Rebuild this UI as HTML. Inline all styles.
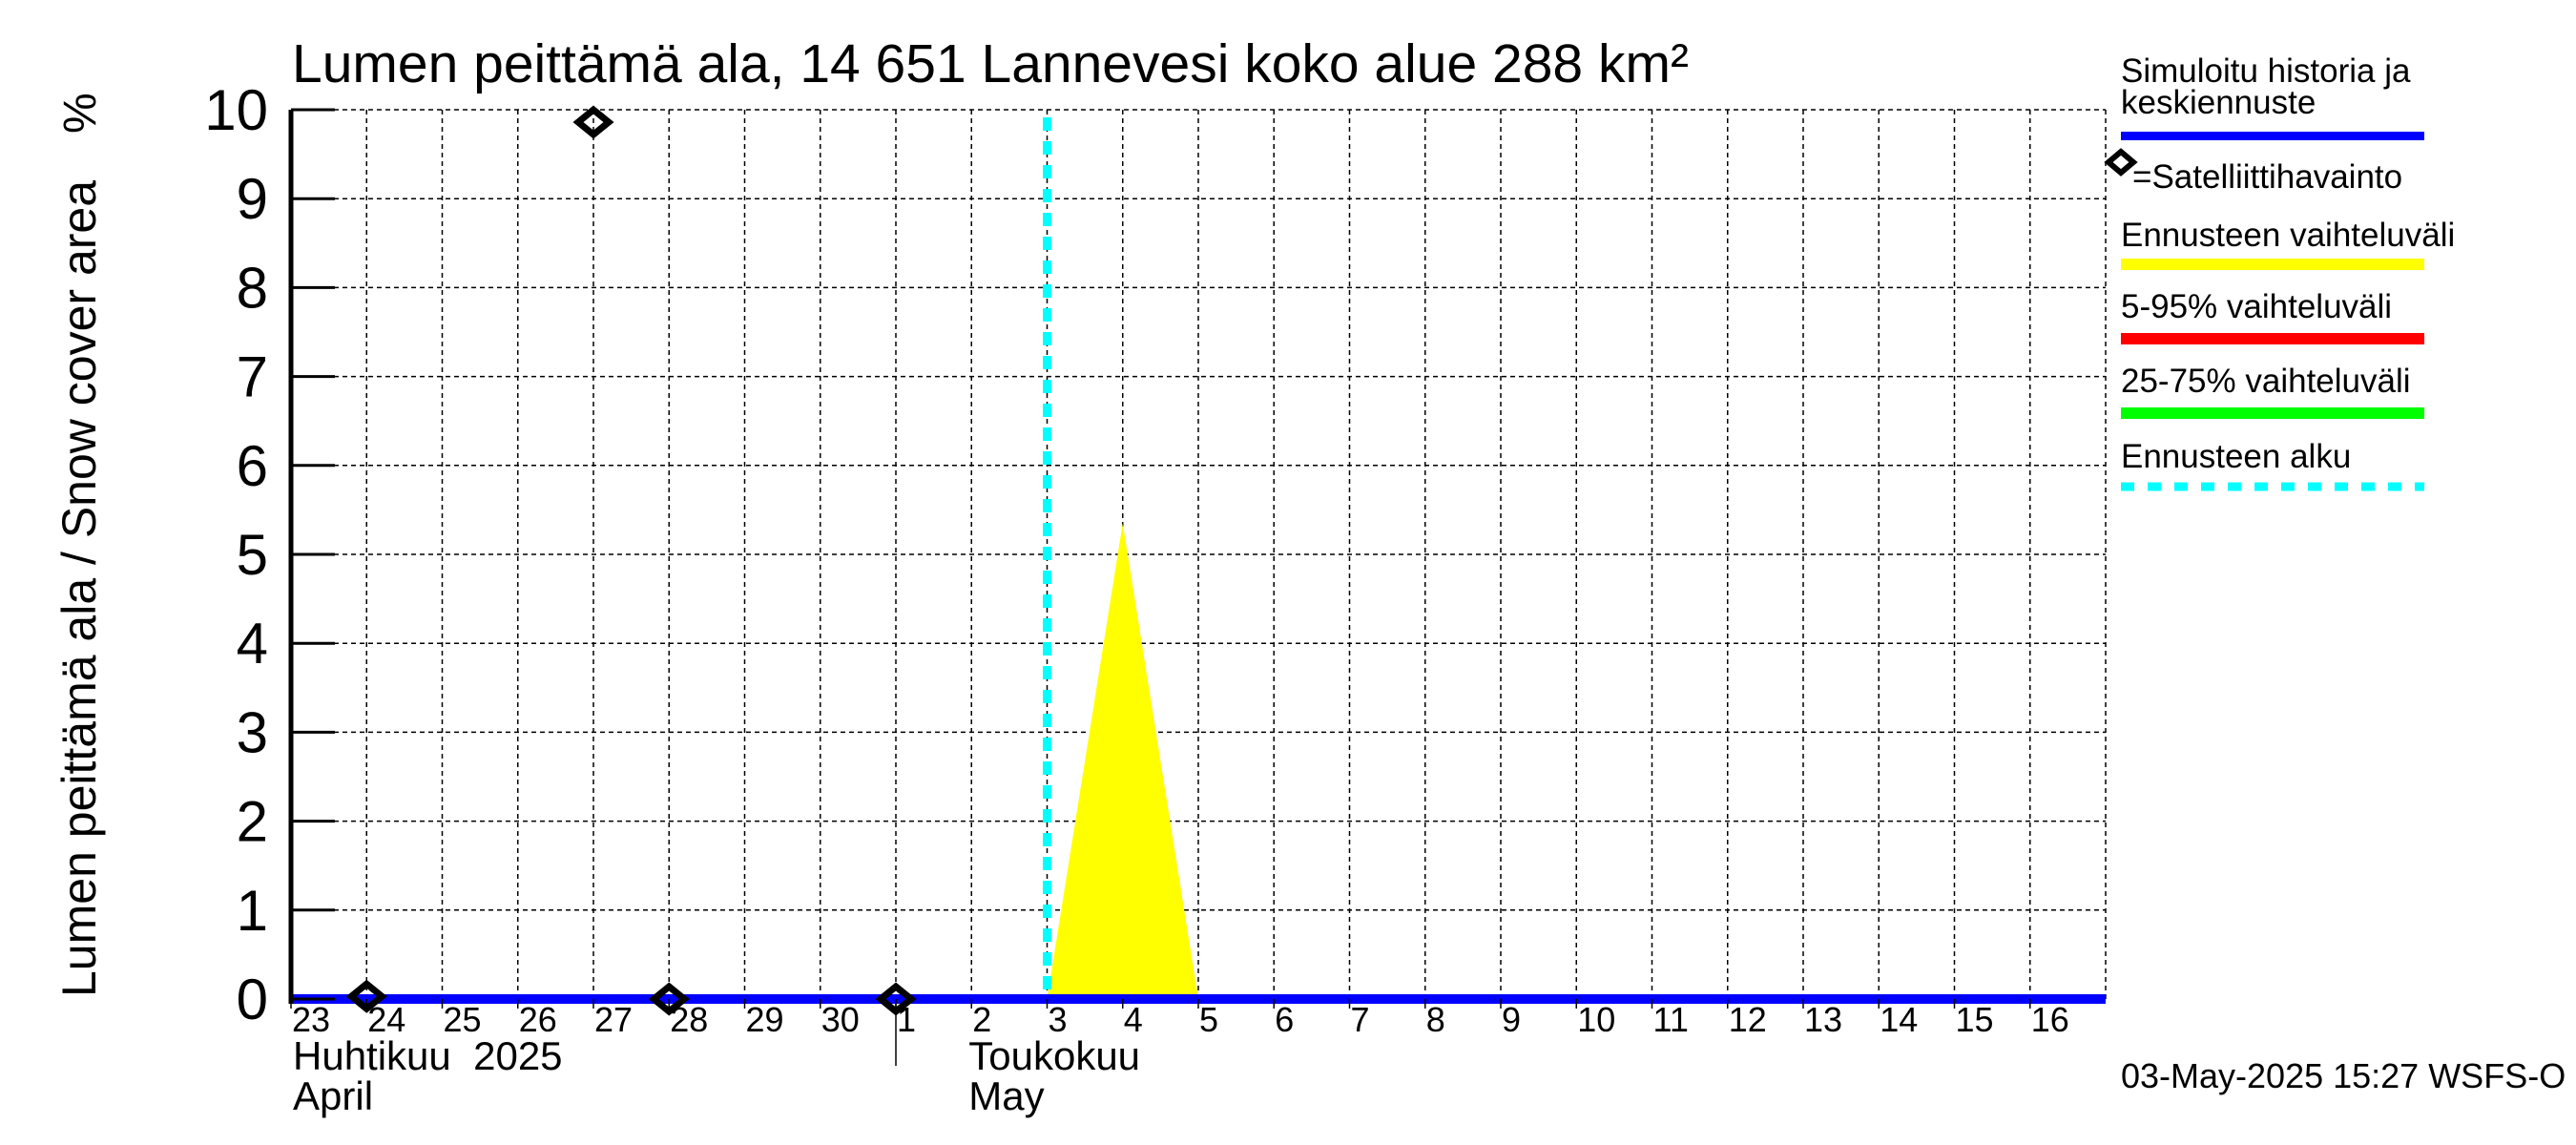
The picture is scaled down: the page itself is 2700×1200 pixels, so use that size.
<!DOCTYPE html>
<html><head><meta charset="utf-8"><style>
body{margin:0;background:#fff}
svg{display:block;font-family:"Liberation Sans",sans-serif}
</style></head><body>
<svg id="chart" width="2700" height="1200" viewBox="0 0 2700 1200" xmlns="http://www.w3.org/2000/svg">
<rect width="2700" height="1200" fill="#fff"/>
<text x="306" y="86" font-size="57">Lumen peittämä ala, 14 651 Lannevesi koko alue 288 km²</text>
<text transform="translate(100,1045) rotate(-90)" font-size="50">Lumen peittämä ala / Snow cover area</text>
<text transform="translate(100,140) rotate(-90)" font-size="48">%</text>
<g id="grid"></g>
<g id="marks"></g>
<g id="axes"></g>
<g font-size="35">
<text x="2223" y="86">Simuloitu historia ja</text>
<text x="2223" y="119">keskiennuste</text>
<rect x="2223" y="138" width="318" height="9" fill="#0000ff"/>
<path d="M2223,159 L2236,170 L2223,181 L2210,170 Z" fill="none" stroke="#000" stroke-width="6"/>
<text x="2235" y="197">=Satelliittihavainto</text>
<text x="2223" y="258">Ennusteen vaihteluväli</text>
<rect x="2223" y="271" width="318" height="12" fill="#ffff00"/>
<text x="2223" y="333">5-95% vaihteluväli</text>
<rect x="2223" y="349" width="318" height="12" fill="#ff0000"/>
<text x="2223" y="411">25-75% vaihteluväli</text>
<rect x="2223" y="427" width="318" height="12" fill="#00ff00"/>
<text x="2223" y="490">Ennusteen alku</text>
<line x1="2223" y1="510" x2="2541" y2="510" stroke="#00ffff" stroke-width="9" stroke-dasharray="14,14"/>
</g>
<text x="2223" y="1140" font-size="36">03-May-2025 15:27 WSFS-O</text>
</svg>
<script>
const dayLabels=["23","24","25","26","27","28","29","30","1","2","3","4","5","6","7","8","9","10","11","12","13","14","15","16"];
const yTicks=[0,1,2,3,4,5,6,7,8,9,10];
const simulated=[0,0,0,0,0,0,0,0,0,0,0,0,0,0,0,0,0,0,0,0,0,0,0,0,0];
const rangeDays=[10,11,12];
const rangeUpper=[0,5.35,0];
const obsDays=[1,4,5,8];
const obsValues=[0.03,9.86,0,0];
const forecastStart=10;
const monthLabels=[["Huhtikuu\u00a0\u00a02025","April",0],["Toukokuu","May",8]];

const L=305,R=2207,T=115,B=1047,NDAYS=24;
const xs=d=>L+(R-L)*d/NDAYS;
const ys=v=>B-(B-T)*v/10;
const NS="http://www.w3.org/2000/svg";
function mk(p,tag,a){const e=document.createElementNS(NS,tag);for(const k in a)e.setAttribute(k,a[k]);p.appendChild(e);return e;}
const grid=document.getElementById('grid'),marks=document.getElementById('marks'),axes=document.getElementById('axes');
for(let d=1;d<=NDAYS;d++){
  const l=mk(grid,'line',{x1:xs(d),y1:T,x2:xs(d),y2:B,stroke:'#000','stroke-width':1.5,'stroke-dasharray':'5,4'});
  
  
}
yTicks.forEach(v=>{
  const l=mk(grid,'line',{x1:L,y1:ys(v),x2:R,y2:ys(v),stroke:'#000','stroke-width':1.5,'stroke-dasharray':'5,4'});
  
  
});
let pts=rangeDays.map((d,i)=>xs(d)+','+ys(rangeUpper[i])).join(' ');
const poly=mk(marks,'polygon',{points:pts,fill:'#ffff00'});


const fs=mk(marks,'line',{x1:xs(forecastStart),y1:T+8,x2:xs(forecastStart),y2:B,stroke:'#00ffff','stroke-width':9,'stroke-dasharray':'14,11'});


const sp=mk(marks,'polyline',{points:simulated.map((v,i)=>xs(i)+','+ys(v)).join(' '),fill:'none',stroke:'#0000ff','stroke-width':10});


obsDays.forEach((d,i)=>{
  const x=xs(d),y=ys(obsValues[i]);
  const p=mk(marks,'path',{d:`M${x},${y-13} L${x+16},${y} L${x},${y+13} L${x-16},${y} Z`,fill:'none',stroke:'#000','stroke-width':7});
  
  
});
const ax=mk(axes,'line',{x1:L,y1:T,x2:L,y2:B+5,stroke:'#000','stroke-width':5});


yTicks.forEach(v=>{
  const t=mk(axes,'line',{x1:L,y1:ys(v),x2:L+46,y2:ys(v),stroke:'#000','stroke-width':3});
  
  
  const tx=mk(axes,'text',{x:281,y:ys(v)+21,'font-size':60,'text-anchor':'end'});
  tx.textContent=v;
  
  
});
dayLabels.forEach((s,d)=>{
  const t=mk(axes,'line',{x1:xs(d),y1:B,x2:xs(d),y2:B+10,stroke:'#000','stroke-width':1.5});
  
  
  const tx=mk(axes,'text',{x:xs(d)+1,y:1081,'font-size':36});
  tx.textContent=s;
  
  
});
monthLabels.forEach(m=>{
  if(m[2]>0){const l=mk(axes,'line',{x1:xs(m[2]),y1:B,x2:xs(m[2]),y2:1117,stroke:'#000','stroke-width':1.5});
    
    }
  const x=m[2]==0?L+2:xs(m[2]+1)-3;
  const a=mk(axes,'text',{x:x,y:1121,'font-size':42});a.textContent=m[0];
  
  
  const b=mk(axes,'text',{x:x,y:1163,'font-size':42});b.textContent=m[1];
  
  
});
</script>
</body></html>
